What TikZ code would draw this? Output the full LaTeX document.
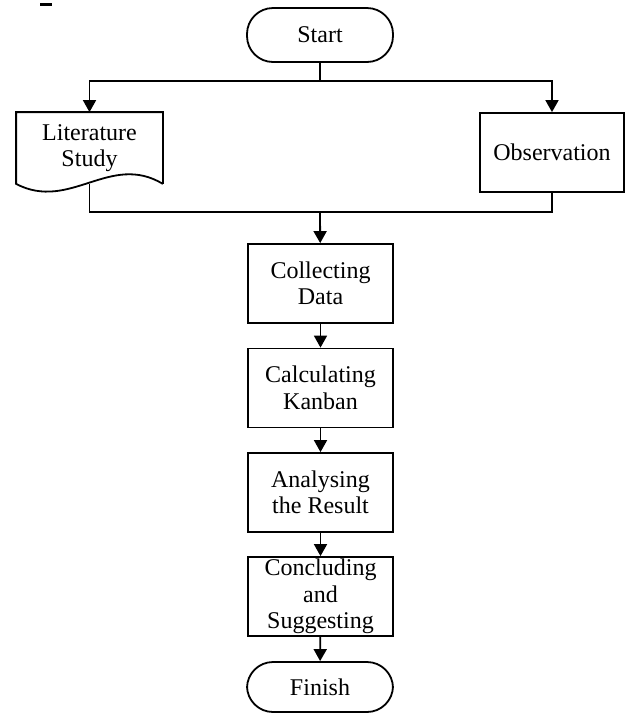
\documentclass[tikz,border=0pt]{standalone}
\usepackage{fontspec}
\setmainfont{Liberation Serif}
\usetikzlibrary{arrows.meta}

\begin{document}
\begin{tikzpicture}[x=1pt, y=-1pt, line width=1.8pt,
    font=\fontsize{24}{26.5}\selectfont,
    flow/.style={-{Triangle[length=12pt,width=13pt]}},
    stepbox/.style={draw, rectangle, minimum width=145pt, minimum height=79pt, inner sep=0pt, align=center},
    terminal/.style={draw, rectangle, rounded corners=26pt, minimum width=146pt, inner sep=0pt, align=center}]
    \useasboundingbox (0,0) rectangle (626,713);
    \fill (40,3) rectangle (52,6);

    \node[terminal, minimum height=54pt] (start) at (320,35) {Start};
    \node[inner sep=0pt, minimum width=145pt, minimum height=70pt, align=center] (lit) at (89.5,148) {Literature\\Study};
    \draw (lit.south east) -- (lit.north east) -- (lit.north west) -- (lit.south west)
        .. controls (70,212) and (110,152) .. (lit.south east); % wavy bottom
    \node[stepbox, minimum width=144pt] (obs) at (552,152.5) {Observation};

    \node[stepbox] (collect) at (320.5,283.5) {Collecting\\Data};
    \node[stepbox] (kanban) at (320.5,388) {Calculating\\Kanban};
    \node[stepbox] (result) at (320.5,492.5) {Analysing\\the Result};
    \node[stepbox] (conclude) at (320.5,596.5) {Concluding\\and\\Suggesting};
    \node[terminal, minimum height=50pt] (finish) at (320,687) {Finish};

    \coordinate (split) at (320,81);
    \coordinate (join) at (320,212);
    \draw (start) -- (split);
    \draw[flow] (split) -| (lit.north);
    \draw[flow] (split) -| (obs.north);
    \draw (lit.south) |- (join);
    \draw (obs.south) |- (join);
    \draw[flow] (join) -- (collect);
    \draw[flow] (collect) -- (kanban);
    \draw[flow] (kanban) -- (result);
    \draw[flow] (result) -- (conclude);
    \draw[flow] (conclude) -- (finish);

\end{tikzpicture}
\end{document}
